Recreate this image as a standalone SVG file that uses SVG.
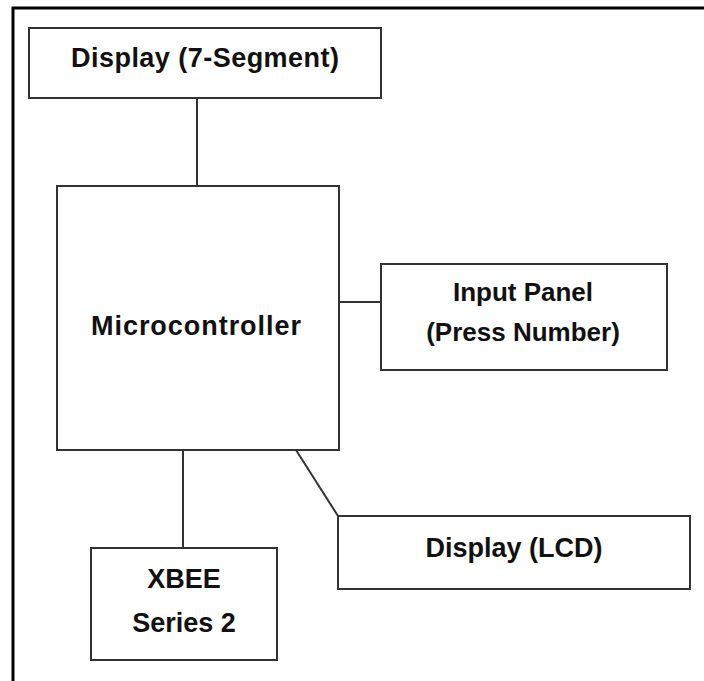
<svg xmlns="http://www.w3.org/2000/svg" width="704" height="681" viewBox="0 0 704 681">
  <style>
    .frame { fill: none; stroke: #000; stroke-width: 3; }
    .box { fill: #fff; stroke: #333; stroke-width: 2; }
    .wire { fill: none; stroke: #333; stroke-width: 2; }
    .label { font-family: "Liberation Sans", Arial, sans-serif; font-weight: bold; font-size: 27px; fill: #111; text-anchor: middle; }
    .small { font-size: 26px; }
  </style>
  <rect width="704" height="681" fill="#fff"/>
  <!-- page border, open at right and bottom -->
  <rect class="frame" x="13" y="8" width="720" height="700"/>

  <g id="connectors">
    <line class="wire" x1="197" y1="98" x2="197" y2="186"/>
    <line class="wire" x1="339" y1="302" x2="381" y2="302"/>
    <line class="wire" x1="183" y1="450" x2="183" y2="548"/>
    <line class="wire" x1="296" y1="450" x2="338" y2="516"/>
  </g>

  <g id="display-7seg">
    <rect class="box" x="29" y="28" width="352" height="70"/>
    <text class="label" x="205" y="67" textLength="268" lengthAdjust="spacing">Display (7-Segment)</text>
  </g>

  <g id="microcontroller">
    <rect class="box" x="57" y="186" width="282" height="264"/>
    <text class="label" x="196" y="335" textLength="210" lengthAdjust="spacing">Microcontroller</text>
  </g>

  <g id="input-panel">
    <rect class="box" x="381" y="264" width="286" height="106"/>
    <text class="label small" x="523" y="301">Input Panel</text>
    <text class="label small" x="523" y="341">(Press Number)</text>
  </g>

  <g id="display-lcd">
    <rect class="box" x="338" y="516" width="352" height="73"/>
    <text class="label" x="514" y="557">Display (LCD)</text>
  </g>

  <g id="xbee">
    <rect class="box" x="91" y="548" width="186" height="112"/>
    <text class="label" x="184" y="588">XBEE</text>
    <text class="label" x="184" y="632">Series 2</text>
  </g>
</svg>
